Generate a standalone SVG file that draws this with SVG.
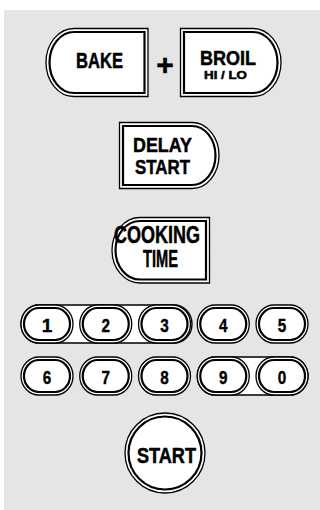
<svg xmlns="http://www.w3.org/2000/svg" width="320" height="510" viewBox="0 0 320 510">
<style>
.o{fill:#fff;stroke:#000;stroke-width:1.3}
.i{fill:none;stroke:#000;stroke-width:2.2}
.band{fill:#fff;stroke:#000;stroke-width:1.4}
.t{font-family:"Liberation Sans",Arial,sans-serif;font-weight:bold;fill:#000;stroke:#000;stroke-width:0.5;text-anchor:middle}
.d{font-family:"Liberation Sans",Arial,sans-serif;font-weight:bold;fill:#000;stroke:#000;stroke-width:0.4;text-anchor:middle;font-size:19px}
</style>
<rect x="4" y="10" width="316" height="500" fill="#e5e5e5"/>
<g id="bake">
<path class="o" d="M148,28.5 H74 A28 34 0 0 0 74,96.5 H148 Z"/>
<path class="i" d="M144.5,32 H74 A24.5 30.5 0 0 0 74,93 H144.5 Z"/>
<text class="t" x="99.5" y="67.7" font-size="22" textLength="47" lengthAdjust="spacingAndGlyphs">BAKE</text>
</g>
<g id="plus">
<text class="t" x="165" y="75" font-size="30" stroke-width="1">+</text>
</g>
<g id="broil">
<path class="o" d="M180.5,28.5 H253 A28 34 0 0 1 253,96.5 H180.5 Z"/>
<path class="i" d="M184,32 H253 A24.5 30.5 0 0 1 253,93 H184 Z"/>
<text class="t" x="228" y="65" font-size="20" textLength="56" lengthAdjust="spacingAndGlyphs">BROIL</text>
<text class="t" x="225.5" y="79.3" font-size="11" stroke-width="0.3" textLength="43" lengthAdjust="spacingAndGlyphs">HI / LO</text>
</g>
<g id="delay-start">
<path class="o" d="M119.5,122.5 H192 A27 33 0 0 1 192,188.5 H119.5 Z"/>
<path class="i" d="M123,126 H192 A23.5 29.5 0 0 1 192,185 H123 Z"/>
<text class="t" x="162.5" y="152.3" font-size="21" textLength="59" lengthAdjust="spacingAndGlyphs">DELAY</text>
<text class="t" x="162.5" y="174.3" font-size="21" textLength="55" lengthAdjust="spacingAndGlyphs">START</text>
</g>
<g id="cooking-time">
<path class="o" d="M209.5,217.5 H140 A28 32.75 0 0 0 140,283 H209.5 Z"/>
<path class="i" d="M206,221 H140 A24.5 29.25 0 0 0 140,279.5 H206 Z"/>
<text class="t" x="157" y="243" font-size="23.5" textLength="86" lengthAdjust="spacingAndGlyphs">COOKING</text>
<text class="t" x="160.5" y="267" font-size="23.5" textLength="35" lengthAdjust="spacingAndGlyphs">TIME</text>
</g>
<g id="band-123"><rect class="band" x="21" y="305" width="171" height="38" rx="18" ry="19"/></g>
<g id="band-90"><rect class="band" x="197.25" y="357" width="110.75" height="38" rx="18" ry="19"/></g>
<g id="key-1"><rect class="o" x="21" y="305" width="52" height="38" rx="18" ry="19"/><rect class="i" x="24" y="308" width="46" height="32" rx="15" ry="16"/><text class="d" x="47" y="331.7">1</text></g>
<g id="key-2"><rect class="o" x="79.75" y="305" width="52" height="38" rx="18" ry="19"/><rect class="i" x="82.75" y="308" width="46" height="32" rx="15" ry="16"/><text class="d" x="105.75" y="331.7" textLength="8.5" lengthAdjust="spacingAndGlyphs">2</text></g>
<g id="key-3"><rect class="o" x="138.5" y="305" width="52" height="38" rx="18" ry="19"/><rect class="i" x="141.5" y="308" width="46" height="32" rx="15" ry="16"/><text class="d" x="164.5" y="331.7" textLength="8.5" lengthAdjust="spacingAndGlyphs">3</text></g>
<g id="key-4"><rect class="o" x="197.25" y="305" width="52" height="38" rx="18" ry="19"/><rect class="i" x="200.25" y="308" width="46" height="32" rx="15" ry="16"/><text class="d" x="223.25" y="331.7" textLength="8.5" lengthAdjust="spacingAndGlyphs">4</text></g>
<g id="key-5"><rect class="o" x="256" y="305" width="52" height="38" rx="18" ry="19"/><rect class="i" x="259" y="308" width="46" height="32" rx="15" ry="16"/><text class="d" x="282" y="331.7" textLength="8.5" lengthAdjust="spacingAndGlyphs">5</text></g>
<g id="key-6"><rect class="o" x="21" y="357" width="52" height="38" rx="18" ry="19"/><rect class="i" x="24" y="360" width="46" height="32" rx="15" ry="16"/><text class="d" x="47" y="383.7" textLength="8.5" lengthAdjust="spacingAndGlyphs">6</text></g>
<g id="key-7"><rect class="o" x="79.75" y="357" width="52" height="38" rx="18" ry="19"/><rect class="i" x="82.75" y="360" width="46" height="32" rx="15" ry="16"/><text class="d" x="105.75" y="383.7" textLength="8.5" lengthAdjust="spacingAndGlyphs">7</text></g>
<g id="key-8"><rect class="o" x="138.5" y="357" width="52" height="38" rx="18" ry="19"/><rect class="i" x="141.5" y="360" width="46" height="32" rx="15" ry="16"/><text class="d" x="164.5" y="383.7" textLength="8.5" lengthAdjust="spacingAndGlyphs">8</text></g>
<g id="key-9"><rect class="o" x="197.25" y="357" width="52" height="38" rx="18" ry="19"/><rect class="i" x="200.25" y="360" width="46" height="32" rx="15" ry="16"/><text class="d" x="223.25" y="383.7" textLength="8.5" lengthAdjust="spacingAndGlyphs">9</text></g>
<g id="key-0"><rect class="o" x="256" y="357" width="52" height="38" rx="18" ry="19"/><rect class="i" x="259" y="360" width="46" height="32" rx="15" ry="16"/><text class="d" x="282" y="383.7" textLength="8.5" lengthAdjust="spacingAndGlyphs">0</text></g>
<g id="start">
<circle class="o" cx="165" cy="453" r="40"/>
<circle class="i" cx="165" cy="453" r="36.5"/>
<text class="t" x="166.5" y="463" font-size="22" textLength="59" lengthAdjust="spacingAndGlyphs">START</text>
</g>
<g id="connectors"/>
</svg>
